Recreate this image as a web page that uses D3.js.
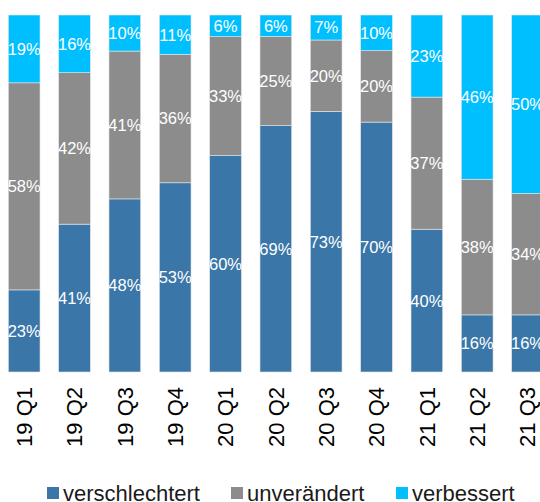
<!DOCTYPE html>
<html>
<head>
<meta charset="utf-8">
<script src="https://cdn.jsdelivr.net/npm/d3@7"></script>
<style>
  body { margin: 0; background: #fff; }
  svg { display: block; }
</style>
</head>
<body>
<script>
const quarters = ['19 Q1', '19 Q2', '19 Q3', '19 Q4', '20 Q1', '20 Q2', '20 Q3', '20 Q4', '21 Q1', '21 Q2', '21 Q3'];
const verschlechtert = [23, 41, 48, 53, 60, 69, 73, 70, 40, 16, 16];
const unveraendert = [58, 42, 41, 36, 33, 25, 20, 20, 37, 38, 34];
const verbessert = [19, 16, 10, 11, 6, 6, 7, 10, 23, 46, 50];
const seriesNames = ['verschlechtert', 'unverändert', 'verbessert'];
const colors = ['#3a76a8', '#8c8c8c', '#00bfff'];

const width = 540, height = 502;
const plotTop = 15, plotBottom = 372;

// rows for d3.stack, shares of 100%
const rows = quarters.map((q, i) => {
  const sum = verschlechtert[i] + unveraendert[i] + verbessert[i];
  return {
    q: q,
    verschlechtert: verschlechtert[i] / sum,
    'unverändert': unveraendert[i] / sum,
    verbessert: verbessert[i] / sum,
    raw: { verschlechtert: verschlechtert[i], 'unverändert': unveraendert[i], verbessert: verbessert[i] }
  };
});

let svg = d3.select('body')
  .append('svg')
  .attr('width', width)
  .attr('height', height);

let x = d3.scaleBand()
  .domain(quarters)
  .range([-1, 552.7])
  .paddingInner(0.37)
  .paddingOuter(0.185);

let y = d3.scaleLinear()
  .domain([0, 1])
  .range([plotBottom, plotTop]);

let color = d3.scaleOrdinal().domain(seriesNames).range(colors);

let stacked = d3.stack().keys(seriesNames)(rows);

let layer = svg.selectAll('.layer')
  .data(stacked)
  .enter()
  .append('g')
  .attr('class', 'layer')
  .attr('fill', (d) => color(d.key));

layer.selectAll('rect')
  .data((d) => d)
  .enter()
  .append('rect')
  .attr('x', (d) => x(d.data.q))
  .attr('width', x.bandwidth())
  .attr('y', (d) => y(d[1]))
  .attr('height', (d) => y(d[0]) - y(d[1]))
  .attr('stroke', '#e6e6e6')
  .attr('stroke-width', 0.6);

// value labels in the middle of each segment
stacked.forEach((s) => {
  svg.append('g')
    .selectAll('text')
    .data(s)
    .enter()
    .append('text')
    .attr('x', (d) => x(d.data.q) + x.bandwidth() / 2)
    .attr('y', (d) => (y(d[0]) + y(d[1])) / 2)
    .attr('dy', '0.36em')
    .attr('text-anchor', 'middle')
    .attr('fill', '#fff')
    .style('font-family', 'Liberation Sans, Arial, sans-serif')
    .style('font-size', '16.5px')
    .text((d) => d.data.raw[s.key] + '%');
});

// rotated category labels
let xAxis = svg.append('g')
  .attr('transform', `translate(0, ${plotBottom})`)
  .call(d3.axisBottom(x).tickSize(0).tickPadding(0));
xAxis.select('.domain').remove();
xAxis.selectAll('text')
  .attr('transform', 'rotate(-90)')
  .attr('x', -15)
  .attr('y', 0)
  .attr('dy', '0.36em')
  .attr('text-anchor', 'end')
  .attr('fill', '#000')
  .style('font-family', 'Liberation Sans, Arial, sans-serif')
  .style('font-size', '22px');

// legend
const legendX = [47, 231, 396];
let legend = svg.append('g')
  .selectAll('g')
  .data(seriesNames)
  .enter()
  .append('g')
  .attr('transform', (d, i) => `translate(${legendX[i]}, 487)`);

legend.append('rect')
  .attr('width', 12)
  .attr('height', 12)
  .attr('fill', (d) => color(d));

legend.append('text')
  .attr('x', 16)
  .attr('y', 6)
  .attr('dy', '0.36em')
  .attr('fill', '#1a1a1a')
  .style('font-family', 'Liberation Sans, Arial, sans-serif')
  .style('font-size', '22px')
  .text((d) => d);
</script>
</body>
</html>
